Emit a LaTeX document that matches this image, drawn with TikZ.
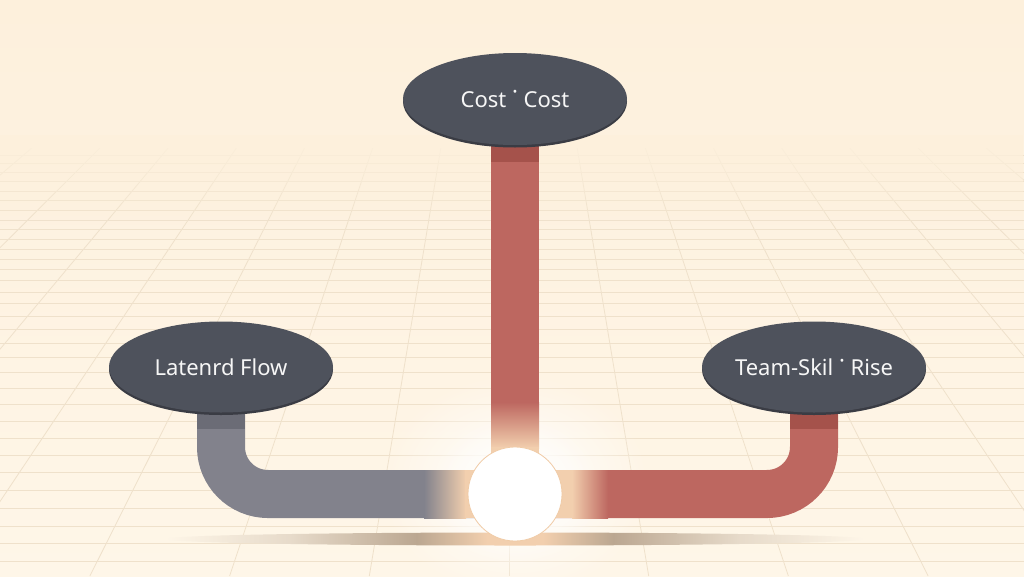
\documentclass[tikz,border=0pt]{standalone}
\usepackage{fontspec}
\newfontfamily\lab{Noto Sans}
\usetikzlibrary{shapes.geometric,fadings}
\pgfdeclarelayer{back}
\pgfdeclarelayer{pipes}
\pgfsetlayers{back,pipes,main}
\definecolor{bgtop}{HTML}{FDF0DC}
\definecolor{bgbot}{HTML}{FEF6E8}
\definecolor{gridc}{HTML}{EFE1CB}
\definecolor{ellc}{HTML}{4E525C}
\definecolor{ellsh}{HTML}{3A3C44}
\definecolor{txtc}{HTML}{F6F6F6}
\definecolor{grayp}{HTML}{82828C}
\definecolor{grayband}{HTML}{6B6C76}
\definecolor{redp}{HTML}{BD6760}
\definecolor{redband}{HTML}{A5524B}
\definecolor{peach}{HTML}{F2CFAE}
\definecolor{hubedge}{HTML}{F0CBA6}
\definecolor{shc}{HTML}{BBA791}
\tikzfading[name=glowfade, inner color=transparent!0, outer color=transparent!100]
\tikzfading[name=fadedown, top color=transparent!0, bottom color=transparent!100]
\pgfdeclarehorizontalshading{shadowsh}{100bp}{color(0bp)=(bgbot); color(25bp)=(bgbot); color(34bp)=(shc!35!bgbot); color(43bp)=(shc); color(48bp)=(peach); color(52bp)=(peach); color(57bp)=(shc); color(66bp)=(shc!35!bgbot); color(75bp)=(bgbot); color(100bp)=(bgbot)}
\newcommand{\dotmark}{\raisebox{0.32em}{·}}
\begin{document}
\begin{tikzpicture}[x=1pt,y=-1pt,
  ell/.style={ellipse, fill=ellc, minimum width=224pt, minimum height=92pt, inner sep=0pt,
    text=txtc, font=\lab\fontsize{22}{26}\selectfont},
  pipe/.style={line width=48pt, rounded corners=47pt},
  hubst/.style={circle, fill=white, draw=hubedge, line width=0.8pt, minimum size=94pt, inner sep=0pt},
  gridline/.style={draw=gridc, line width=1pt},
  vgrid/.style={draw=gridc, line width=0.8pt}]
\useasboundingbox (0,0) rectangle (1024,576);

% nodes
\fill[ellsh] (515,101.5) ellipse [x radius=112pt, y radius=46pt];
\fill[ellsh] (221,369.5) ellipse [x radius=112pt, y radius=45.5pt];
\fill[ellsh] (814,369.5) ellipse [x radius=112pt, y radius=45.5pt];
\node[ell] (T) at (515,99) {Cost \dotmark\ Cost};
\node[ell, minimum height=91pt] (L) at (221,367) {Latenrd Flow};
\node[ell, minimum height=91pt] (R) at (814,367) {Team-Skil \dotmark\ Rise};
\node[hubst] (H) at (515,494) {};

% background, grid, glow, shadow
\begin{pgfonlayer}{back}
\shade[top color=bgtop, bottom color=bgbot] (0,0) rectangle (1024,576);
\foreach \yy in {155,163,172,181,191,200,210,220,229,239,249,259,269,280,292,303,316,329,343,357,372,388,404,421,438,455,472,490,508,526,543,561}
  \draw[gridline] (0,\yy) -- (1024,\yy);
\begin{scope}
  \clip (0,148) rectangle (1024,576);
  \foreach \k in {-8,...,8}
    \draw[vgrid] (509,-260) -- ({509+139.7*\k},576);
\end{scope}
\fill[bgtop, path fading=fadedown] (0,135) rectangle (1024,225);
\fill[white, path fading=glowfade] (515,485) ellipse [x radius=135pt, y radius=112pt];
\fill[white, path fading=glowfade] (515,490) ellipse [x radius=85pt, y radius=75pt];
\shade[shading=shadowsh] (515,539) ellipse [x radius=350pt, y radius=6.5pt];
\end{pgfonlayer}

% connectors
\begin{pgfonlayer}{pipes}
\draw[pipe, draw=grayp] (L.center) |- (H.center);
\draw[pipe, draw=redp] (R.center) |- (H.center);
\draw[pipe, draw=redp, rounded corners=0pt] (T.center) -- (H.center);
\fill[grayband] (197,367) rectangle (245,429);
\fill[redband] (790,367) rectangle (838,429);
\fill[redband] (491,99) rectangle (539,162);
\shade[left color=grayp, right color=peach] (424,470) rectangle (466,518);
\fill[peach] (465,470) rectangle (516,518);
\fill[peach] (514,470) rectangle (573,518);
\shade[left color=peach, right color=redp] (572,470) rectangle (608,518);
\shade[top color=redp, bottom color=peach] (491,402) rectangle (539,448);
\fill[peach] (491,447) rectangle (539,494);
\end{pgfonlayer}
\end{tikzpicture}
\end{document}
